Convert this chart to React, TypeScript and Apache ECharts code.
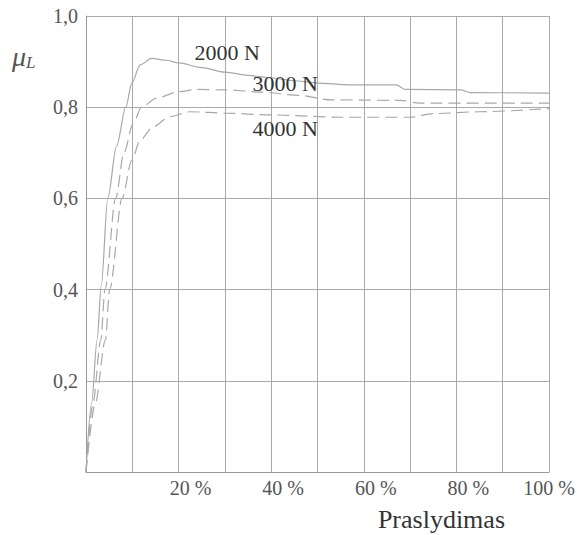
import React, { useEffect, useRef } from "react";
import * as echarts from "echarts";

const xTicks = [20, 40, 60, 80, 100];
const yTicks = [0.2, 0.4, 0.6, 0.8, 1.0];

const s2000: [number, number][] = [
  [0, 0], [1.2, 0.15], [2.4, 0.29], [3.3, 0.41], [4.7, 0.6], [6.6, 0.715], [8.6, 0.8],
  [9.9, 0.853], [11.7, 0.893], [14.2, 0.907], [17.4, 0.903], [20, 0.897], [25, 0.887],
  [30, 0.877], [35, 0.87], [40, 0.864], [45, 0.858], [50, 0.853], [57, 0.849],
  [67, 0.849], [69, 0.839], [81, 0.838], [83, 0.832], [100, 0.831],
];
const s3000: [number, number][] = [
  [0, 0], [1.5, 0.15], [3.2, 0.29], [4.1, 0.4], [6.4, 0.6], [8.2, 0.7], [10.2, 0.765],
  [12, 0.8], [15.2, 0.82], [20, 0.834], [24, 0.839], [30, 0.838], [38, 0.833], [46, 0.826],
  [53, 0.816], [68, 0.815], [72, 0.809], [100, 0.809],
];
const s4000: [number, number][] = [
  [0, 0], [2, 0.15], [4.2, 0.29], [5.1, 0.4], [7.8, 0.6], [9.9, 0.684], [11.7, 0.728],
  [14.5, 0.757], [18, 0.779], [22.5, 0.79], [30, 0.787], [40, 0.783], [55, 0.778],
  [70, 0.778], [75, 0.786], [85, 0.79], [100, 0.797],
];

const seriesNames = ["2000 N", "3000 N", "4000 N"];
const labelCoords: [number, number][] = [[30.5, 0.921], [43, 0.853], [43, 0.754]];

const SERIF = "Liberation Serif";

export default function App() {
  const ref = useRef<HTMLDivElement>(null);
  useEffect(() => {
    if (!ref.current) return;
    const chart = echarts.init(ref.current, undefined, { renderer: "svg" });
    const lineColor = "#a8a8a8";
    const mkSeries = (name: string, data: [number, number][], dashed: boolean, i: number) => ({
      name,
      type: "line",
      data,
      smooth: 0.3,
      smoothMonotone: "x",
      symbol: "none",
      lineStyle: { color: lineColor, width: 1.2, type: dashed ? [12, 6] : "solid" },
      markPoint: {
        symbol: "circle",
        symbolSize: 1,
        itemStyle: { color: "rgba(0,0,0,0)" },
        label: {
          show: true,
          position: "inside",
          formatter: () => name,
          fontFamily: SERIF,
          fontSize: 22,
          color: "#333",
        },
        data: [{ coord: labelCoords[i], value: 0 }],
      },
    });
    chart.setOption({
      animation: false,
      backgroundColor: "#fff",
      grid: {
        left: 86,
        right: 28,
        top: 16,
        bottom: 63,
        containLabel: false,
        outerBoundsMode: "none",
      },
      xAxis: {
        type: "value",
        min: 0,
        max: 100,
        interval: 10,
        name: "Praslydimas",
        nameLocation: "end",
        nameGap: 0,
        nameTextStyle: {
          fontFamily: SERIF,
          fontSize: 26,
          color: "#333",
          align: "right",
          verticalAlign: "top",
          padding: [34, 44, 0, 0],
        },
        axisLine: { show: true, lineStyle: { color: "#999", width: 1 } },
        axisTick: { show: false },
        splitLine: { show: true, lineStyle: { color: "#aaa", width: 1 } },
        axisLabel: {
          margin: 6,
          formatter: (v: number) => {
            if (!xTicks.includes(v)) return "";
            return v === 100 ? `{e|${v} %}` : `{s|${v} %}`;
          },
          rich: {
            s: { fontFamily: SERIF, fontSize: 20, color: "#555", padding: [0, 0, 0, 24] },
            e: { fontFamily: SERIF, fontSize: 20, color: "#555", padding: [0, 0, 0, 0] },
          },
        },
      },
      yAxis: {
        type: "value",
        min: 0,
        max: 1,
        interval: 0.2,
        axisLine: { show: true, lineStyle: { color: "#999", width: 1 } },
        axisTick: { show: false },
        splitLine: { show: true, lineStyle: { color: "#aaa", width: 1 } },
        axisLabel: {
          margin: 8,
          fontFamily: SERIF,
          fontSize: 20,
          color: "#555",
          formatter: (v: number) => {
            const t = yTicks.find((y) => Math.abs(y - v) < 1e-6);
            return t === undefined ? "" : t.toFixed(1).replace(".", ",");
          },
        },
      },
      graphic: [
        {
          type: "text",
          left: 12,
          top: 42,
          style: {
            text: "{m|μ}{l|L}",
            rich: {
              m: { fontFamily: SERIF, fontStyle: "italic", fontSize: 28, fill: "#555" },
              l: { fontFamily: SERIF, fontStyle: "italic", fontSize: 17, fill: "#555", padding: [12, 0, 0, 0] },
            },
          },
        },
      ],
      series: [
        mkSeries(seriesNames[0], s2000, false, 0),
        mkSeries(seriesNames[1], s3000, true, 1),
        mkSeries(seriesNames[2], s4000, true, 2),
      ],
    });
    return () => chart.dispose();
  }, []);
  return (
    <div
      ref={ref}
      style={{ position: "fixed", left: 0, top: 0, width: 577, height: 535 }}
    />
  );
}
